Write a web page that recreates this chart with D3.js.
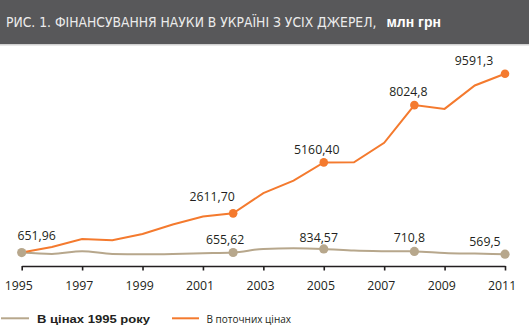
<!DOCTYPE html>
<html><head><meta charset="utf-8">
<script src="https://cdn.jsdelivr.net/npm/d3@7/dist/d3.min.js"></script>
<style>body{margin:0;background:#fff}svg{display:block}</style>
</head><body>
<script>
const years = [1995,1996,1997,1998,1999,2000,2001,2002,2003,2004,2005,2006,2007,2008,2009,2010,2011];
const current = [651.96,935,1330,1270,1580,2055,2450,2611.70,3625,4250,5160.40,5164,6140,8024.8,7835,9005,9591.3];
const constant = [651.96,585,720,585,570,585,620,655.62,835,870,834.57,750,720,710.8,635,600,569.5];
const tickYears = [1995,1997,1999,2001,2003,2005,2007,2009,2011];
const currentMarked = [{year:2002,label:"2611,70",dx:-21,dy:-12.6},{year:2005,label:"5160,40",dx:-7,dy:-8.7},{year:2008,label:"8024,8",dx:-6,dy:-9},{year:2011,label:"9591,3",dx:-31,dy:-9}];
const constantMarked = [{year:1995,label:"651,96",dx:15,dy:-12.5},{year:2002,label:"655,62",dx:-8,dy:-8},{year:2005,label:"834,57",dx:-5,dy:-7},{year:2008,label:"710,8",dx:-5,dy:-9.4},{year:2011,label:"569,5",dx:-20,dy:-8.6}];
const titleMain = "РИС. 1. ФІНАНСУВАННЯ НАУКИ В УКРАЇНІ З УСІХ ДЖЕРЕЛ,";
const titleUnit = "млн грн";
const legendLabels = ["В цінах 1995 року","В поточних цінах"];

const W=529,H=331;
const orange="#f47a2e", beige="#b7a78c", dark="#231f20";
const svg=d3.select("body").append("svg").attr("width",W).attr("height",H);

// title bar
svg.append("rect").attr("x",0).attr("y",0).attr("width",W).attr("height",44).attr("fill","#58585a");
svg.append("rect").attr("x",0).attr("y",44).attr("width",W).attr("height",1.5).attr("fill","#d2d2d2");
const title=svg.append("text").attr("y",26.7);
const tMain=title.append("tspan").attr("x",6).attr("fill","#ececec")
  .attr("font-family","'Liberation Sans Narrow','DejaVu Sans Condensed',sans-serif").attr("font-size",14.5).text(titleMain);
const wMain=tMain.node().getComputedTextLength();
if(wMain>370.5) tMain.attr("font-size",14.5*370.5/wMain);
const tUnit=title.append("tspan").attr("x",386.5).attr("fill","#ffffff")
  .attr("font-family","'Liberation Sans',Arial,sans-serif").attr("font-weight","bold").attr("font-size",14).text(titleUnit);
const wUnit=tUnit.node().getComputedTextLength();
if(wUnit>62) tUnit.attr("font-size",14*62/wUnit);

const x=d3.scaleLinear().domain([1995,2011]).range([21.7,505]);
const y=d3.scaleLinear().domain([0,10000]).range([265.6,65.6]);

// axis
const ax=svg.append("g").attr("transform","translate(0,266)")
  .call(d3.axisBottom(x).tickValues(tickYears).tickFormat(d3.format("d")).tickSizeInner(4.5).tickSizeOuter(0).tickPadding(11));
ax.select(".domain").attr("stroke",dark).attr("stroke-width",1.6);
ax.selectAll(".tick line").attr("stroke",dark).attr("stroke-width",1.6);
ax.selectAll(".tick text").attr("fill",dark).attr("font-family","'Open Sans',sans-serif").attr("font-size",12.3).attr("dx",-3.4);

const lineC=d3.line().x((d,i)=>x(years[i])).y(d=>y(d)).curve(d3.curveMonotoneX);
const lineO=d3.line().x((d,i)=>x(years[i])).y(d=>y(d));

svg.append("path").datum(constant).attr("d",lineC).attr("fill","none").attr("stroke",beige).attr("stroke-width",2);
svg.append("path").datum(current).attr("d",lineO).attr("fill","none").attr("stroke",orange).attr("stroke-width",2);

function marks(list,vals,color,r){
  list.forEach(m=>{
    const i=years.indexOf(m.year);
    const px=x(m.year), py=y(vals[i]);
    svg.append("circle").attr("cx",px).attr("cy",py).attr("r",r).attr("fill",color);
    svg.append("text").attr("x",px+m.dx).attr("y",py+m.dy).attr("text-anchor","middle")
      .attr("fill",dark).attr("font-family","'Open Sans',sans-serif").attr("font-size",12.3).text(m.label);
  });
}
marks(constantMarked,constant,beige,4.6);
marks(currentMarked,current,orange,4.3);

// legend
svg.append("line").attr("x1",1).attr("x2",29).attr("y1",318.3).attr("y2",318.3).attr("stroke",beige).attr("stroke-width",2);
svg.append("text").attr("x",37).attr("y",322.8).attr("fill",dark).attr("font-family","'Liberation Sans',Arial,sans-serif")
  .attr("font-weight","bold").attr("font-size",11.5).attr("textLength",113).attr("lengthAdjust","spacingAndGlyphs").text(legendLabels[0]);
svg.append("line").attr("x1",172).attr("x2",199).attr("y1",318.3).attr("y2",318.3).attr("stroke",orange).attr("stroke-width",2);
svg.append("text").attr("x",206.5).attr("y",322.8).attr("fill",dark).attr("font-family","'Liberation Sans Narrow','Open Sans',sans-serif")
  .attr("font-size",11).attr("textLength",84.5).attr("lengthAdjust","spacingAndGlyphs").text(legendLabels[1]);
</script>
</body></html>
